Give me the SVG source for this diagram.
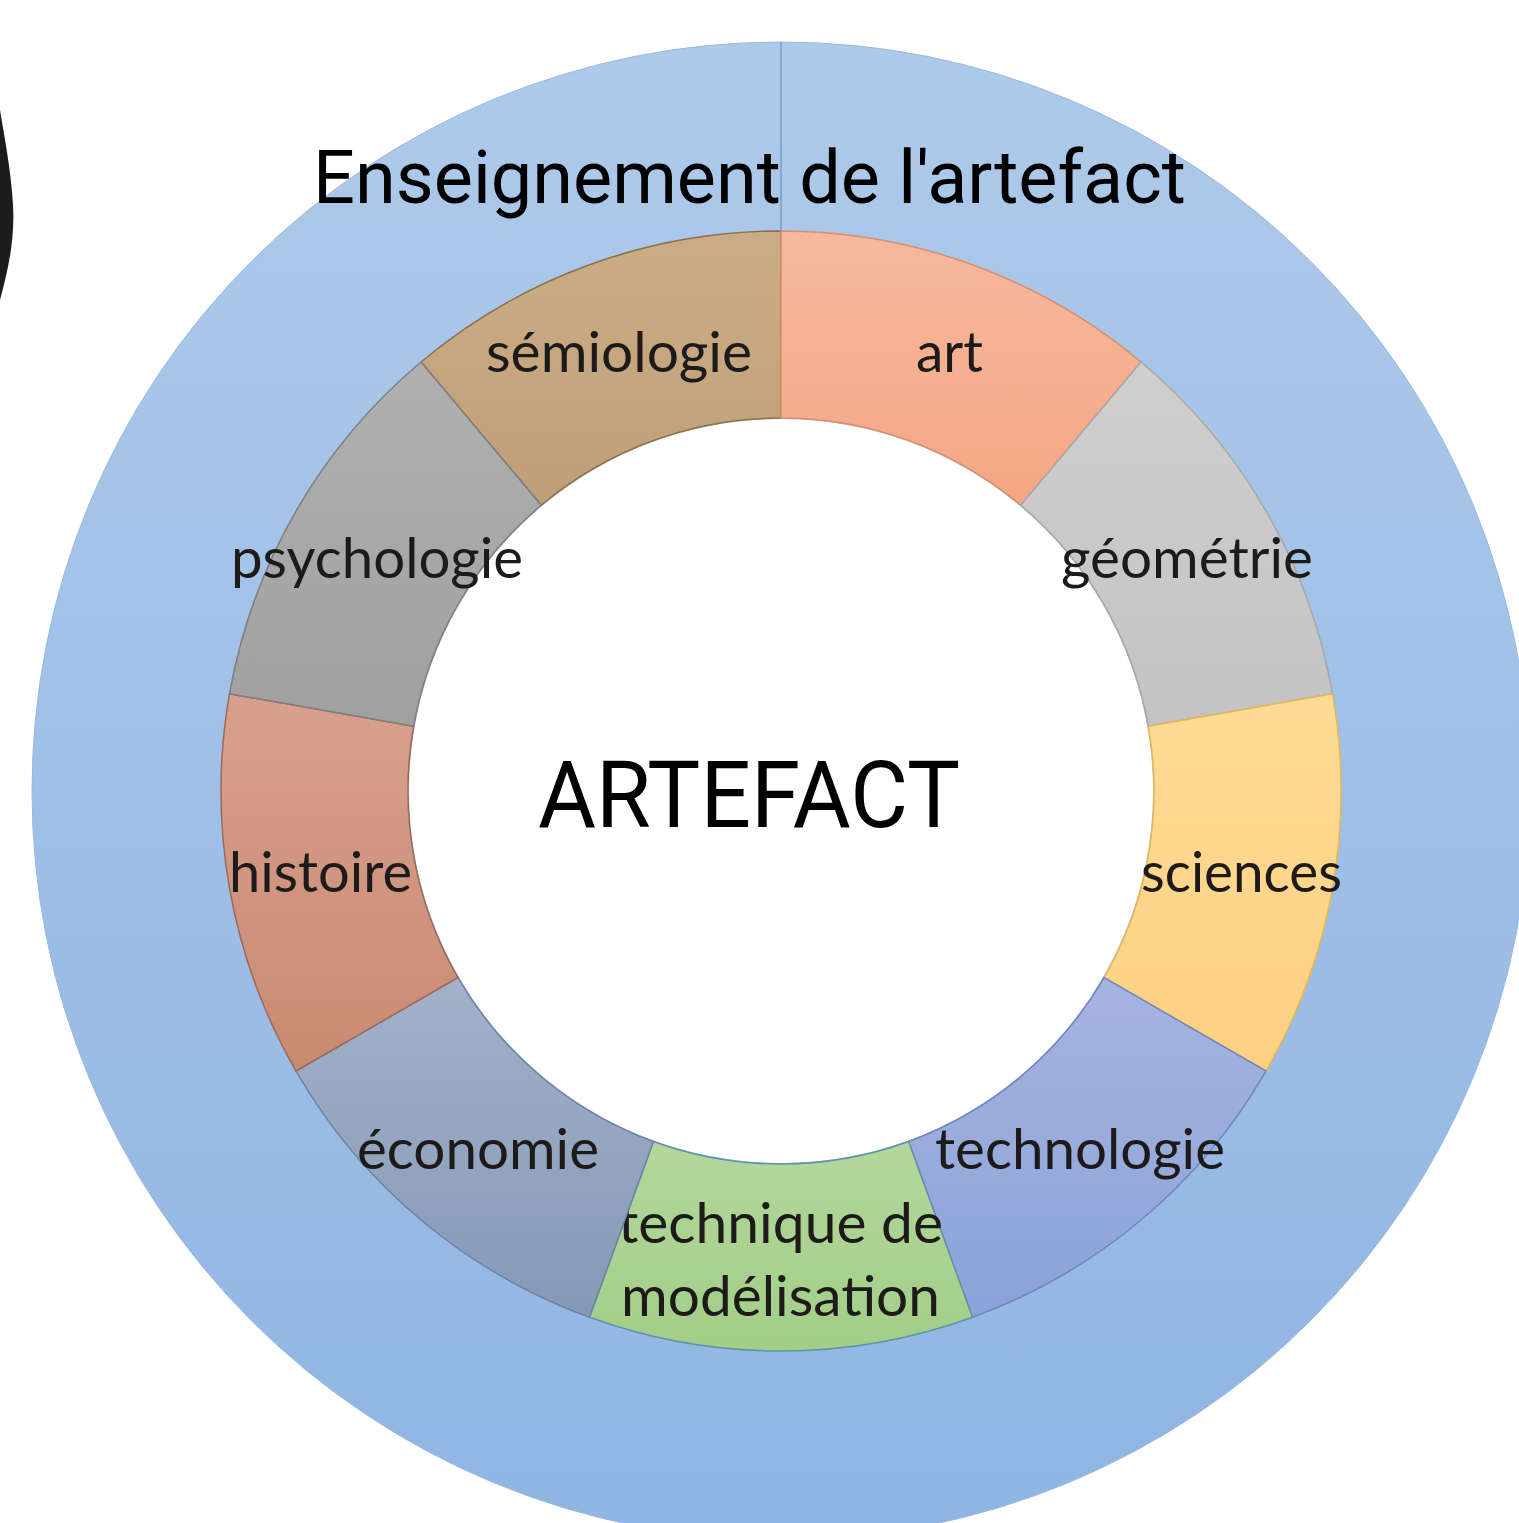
<svg xmlns="http://www.w3.org/2000/svg" width="1519" height="1523" viewBox="0 0 1519 1523">
<defs>
<style>
.lbl{font-family:Lato,"Open Sans","Liberation Sans",sans-serif;font-size:56px;fill:#1d1a1a}
.big{font-family:Roboto,"Noto Sans","Liberation Sans",sans-serif;fill:#000}
.seg{stroke-width:1.5}
</style>
<linearGradient id="gOuter" x1="0" y1="0" x2="0" y2="1"><stop offset="0" stop-color="#aecaea"/><stop offset="1" stop-color="#90b5e3"/></linearGradient>
<linearGradient id="gSem" x1="0" y1="0" x2="0" y2="1"><stop offset="0" stop-color="#cbad85"/><stop offset="1" stop-color="#c09f78"/></linearGradient>
<linearGradient id="gArt" x1="0" y1="0" x2="0" y2="1"><stop offset="0" stop-color="#f6b99f"/><stop offset="1" stop-color="#f5a684"/></linearGradient>
<linearGradient id="gGeo" x1="0" y1="0" x2="0" y2="1"><stop offset="0" stop-color="#cfcfcf"/><stop offset="1" stop-color="#c3c3c3"/></linearGradient>
<linearGradient id="gSci" x1="0" y1="0" x2="0" y2="1"><stop offset="0" stop-color="#fedb95"/><stop offset="1" stop-color="#fdd082"/></linearGradient>
<linearGradient id="gTec" x1="0" y1="0" x2="0" y2="1"><stop offset="0" stop-color="#a6b4df"/><stop offset="1" stop-color="#8ba3d9"/></linearGradient>
<linearGradient id="gMod" x1="0" y1="0" x2="0" y2="1"><stop offset="0" stop-color="#b4d79c"/><stop offset="1" stop-color="#a2ce86"/></linearGradient>
<linearGradient id="gEco" x1="0" y1="0" x2="0" y2="1"><stop offset="0" stop-color="#a3b1c9"/><stop offset="1" stop-color="#8599b5"/></linearGradient>
<linearGradient id="gHis" x1="0" y1="0" x2="0" y2="1"><stop offset="0" stop-color="#d8a08e"/><stop offset="1" stop-color="#c98a72"/></linearGradient>
<linearGradient id="gPsy" x1="0" y1="0" x2="0" y2="1"><stop offset="0" stop-color="#b0b0b0"/><stop offset="1" stop-color="#a0a0a0"/></linearGradient>
</defs>
<rect width="1519" height="1523" fill="#ffffff"/>
<path id="blob" d="M0,110 C4,135 11,170 13,205 C15,240 8,270 0,300 Z" fill="#1b1d1b"/>

<g id="outer-ring">
<circle cx="781" cy="791" r="749" fill="url(#gOuter)" stroke="#9ab9df" stroke-width="1"/>
<text class="big" x="313" y="203" font-size="74" textLength="873" lengthAdjust="spacingAndGlyphs">Enseignement de l'artefact</text>
</g>

<g id="connectors">
<line x1="781" y1="42" x2="781" y2="231" stroke="#7d9dc6" stroke-width="1.5"/>
</g>

<g id="center">
<circle cx="781" cy="791" r="372" fill="#ffffff"/>
<text class="big" x="538" y="827" font-size="92" textLength="422" lengthAdjust="spacingAndGlyphs">ARTEFACT</text>
</g>

<g id="semiologie">
<path class="seg" d="M421.03,362.04 A560,560 0 0 1 781,231 L781,418 A373,373 0 0 0 541.24,505.28 Z" fill="url(#gSem)" stroke="#8c7047"/>
<text class="lbl" x="486" y="372" textLength="266" lengthAdjust="spacingAndGlyphs">sémiologie</text>
</g>
<g id="art">
<path class="seg" d="M781,231 A560,560 0 0 1 1140.97,362.04 L1020.76,505.28 A373,373 0 0 0 781,418 Z" fill="url(#gArt)" stroke="#d98f6e"/>
<text class="lbl" x="916" y="372" textLength="67" lengthAdjust="spacingAndGlyphs">art</text>
</g>
<g id="geometrie">
<path class="seg" d="M1140.97,362.04 A560,560 0 0 1 1332.49,693.78 L1148.33,726.25 A373,373 0 0 0 1020.76,505.28 Z" fill="url(#gGeo)" stroke="#a8a8a8"/>
<text class="lbl" x="1061" y="578" textLength="252" lengthAdjust="spacingAndGlyphs">géométrie</text>
</g>
<g id="sciences">
<path class="seg" d="M1332.49,693.78 A560,560 0 0 1 1265.96,1071 L1104.02,977.5 A373,373 0 0 0 1148.33,726.25 Z" fill="url(#gSci)" stroke="#e6b84f"/>
<text class="lbl" x="1141" y="892" textLength="201" lengthAdjust="spacingAndGlyphs">sciences</text>
</g>
<g id="technologie">
<path class="seg" d="M1265.96,1071 A560,560 0 0 1 972.52,1317.23 L908.57,1141.51 A373,373 0 0 0 1104.02,977.5 Z" fill="url(#gTec)" stroke="#6f86bf"/>
<text class="lbl" x="935" y="1169" textLength="290" lengthAdjust="spacingAndGlyphs">technologie</text>
</g>
<g id="technique-de-modelisation">
<path class="seg" d="M972.52,1317.23 A560,560 0 0 1 589.48,1317.23 L653.43,1141.51 A373,373 0 0 0 908.57,1141.51 Z" fill="url(#gMod)" stroke="#5f93a8"/>
<text class="lbl" x="618" y="1243" textLength="325" lengthAdjust="spacingAndGlyphs">technique de</text>
<text class="lbl" x="621" y="1316" textLength="319" lengthAdjust="spacingAndGlyphs">modélisation</text>
</g>
<g id="economie">
<path class="seg" d="M589.48,1317.23 A560,560 0 0 1 296.04,1071 L457.98,977.5 A373,373 0 0 0 653.43,1141.51 Z" fill="url(#gEco)" stroke="#6d83a6"/>
<text class="lbl" x="357" y="1169" textLength="242" lengthAdjust="spacingAndGlyphs">économie</text>
</g>
<g id="histoire">
<path class="seg" d="M296.04,1071 A560,560 0 0 1 229.51,693.78 L413.67,726.25 A373,373 0 0 0 457.98,977.5 Z" fill="url(#gHis)" stroke="#9c6a58"/>
<text class="lbl" x="229" y="892" textLength="183" lengthAdjust="spacingAndGlyphs">histoire</text>
</g>
<g id="psychologie">
<path class="seg" d="M229.51,693.78 A560,560 0 0 1 421.03,362.04 L541.24,505.28 A373,373 0 0 0 413.67,726.25 Z" fill="url(#gPsy)" stroke="#7e7e7e"/>
<text class="lbl" x="231" y="578" textLength="292" lengthAdjust="spacingAndGlyphs">psychologie</text>
</g>
</svg>
